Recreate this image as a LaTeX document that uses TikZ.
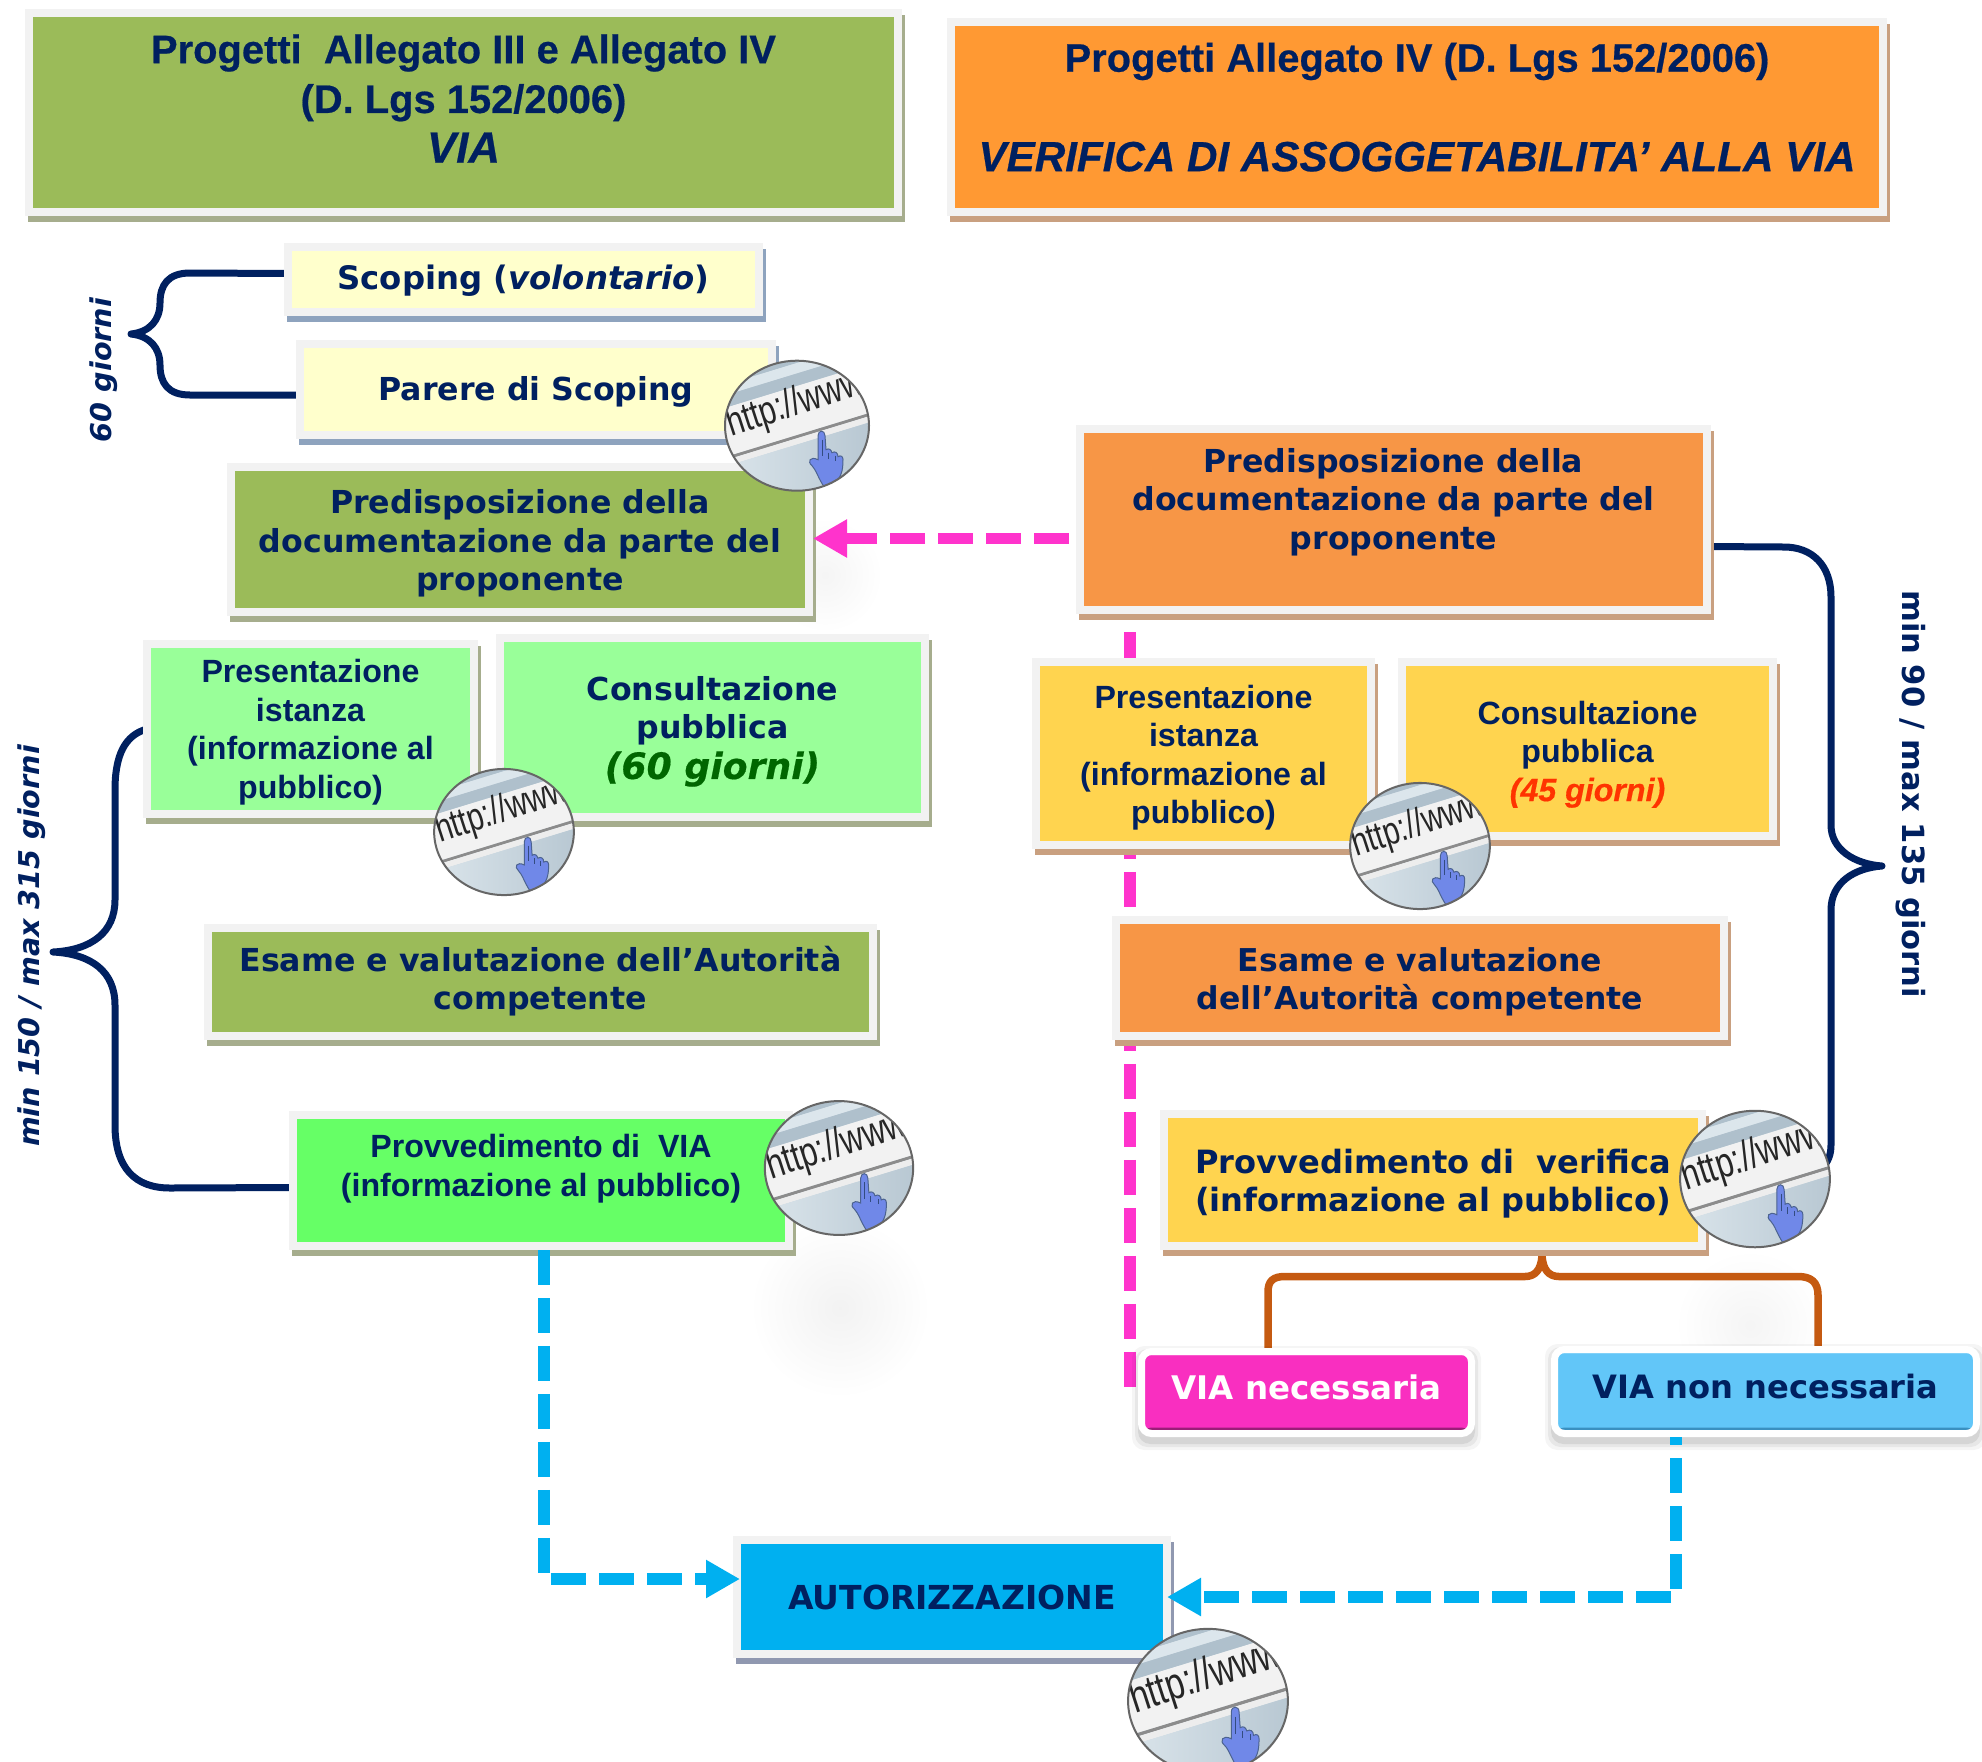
\documentclass[tikz,border=0pt]{standalone}
\usepackage{fontspec}
\usetikzlibrary{arrows.meta,calc}
\setmainfont{Liberation Sans}
\newfontfamily\vfont{DejaVu Sans}
\newfontfamily\vboldfont{DejaVu Sans}[BoldItalicFeatures={FakeBold=0.5}]
\newfontfamily\titleff{Liberation Sans}[BoldFeatures={FakeBold=0.5},BoldItalicFeatures={FakeBold=0.5}]
\newfontfamily\urlfont{Liberation Sans}[FakeStretch=0.75]
\definecolor{navy}{HTML}{002060}
\definecolor{frameg}{HTML}{F2F2F2}
\definecolor{oliveb}{HTML}{9BBB59}
\definecolor{orangeT}{HTML}{FF9933}
\definecolor{orangeB}{HTML}{F79646}
\definecolor{creamB}{HTML}{FFFFCC}
\definecolor{mintB}{HTML}{99FF99}
\definecolor{greenB}{HTML}{66FF66}
\definecolor{yellowB}{HTML}{FFD44F}
\definecolor{cyanB}{HTML}{00B0F0}
\definecolor{pinkL}{HTML}{FF33CC}
\definecolor{pinkB}{HTML}{F92FC0}
\definecolor{pinkD}{HTML}{9B1E78}
\definecolor{skyB}{HTML}{62C6F8}
\definecolor{skyD}{HTML}{3A90C0}
\definecolor{brownL}{HTML}{C55A11}
\definecolor{shOlive}{HTML}{A6AD8D}
\definecolor{shOrange}{HTML}{C9A080}
\definecolor{shBlue}{HTML}{8EA3BE}
\definecolor{shSlate}{HTML}{9098B0}
\definecolor{handblue}{HTML}{7088E8}
\definecolor{glassA}{HTML}{C9D8E2}
\definecolor{glassB}{HTML}{AFC0CC}
\definecolor{glassC}{HTML}{DCE6EC}
\definecolor{greenT}{HTML}{006600}
\definecolor{redT}{HTML}{FF3300}
\newdimen\pxu \pxu=0.02cm
\newcommand\upby[1]{\rule[\dimexpr-#1\pxu*2\relax]{0pt}{0pt}}
\newcommand\dnby[1]{\rule{0pt}{\dimexpr 13.6pt+#1\pxu*2\relax}}
\newcommand\afs[2]{\fontsize{#1}{#2}\selectfont\bfseries}
\newcommand\vfs[2]{\vfont\fontsize{#1}{#2}\selectfont\bfseries}
\tikzset{
  x=0.02cm,y=-0.02cm,
  framebox/.style={draw=frameg,line width=0.16cm,outer sep=0pt,inner sep=0pt,align=center,text=navy},
  navyline/.style={draw=navy,line width=0.14cm,line join=round},
  brownline/.style={draw=brownL,line width=0.15cm,line join=round},
  pinkdash/.style={draw=pinkL,line width=0.23cm,dash pattern=on 0.7cm off 0.26cm},
  bluedash/.style={draw=cyanB,line width=0.23cm,dash pattern=on 0.7cm off 0.26cm},
  bigtip/.style={-{Triangle[length=0.68cm,width=0.72cm]}},
  vert/.style={font=\vfs{#1}{21.9}},
  arial/.style={font=\afs{18.3}{21.9}},
  titlefont/.style={font=\titleff\fontsize{22.7}{28.3}\selectfont\bfseries},
  sidetext/.style={text=navy,inner sep=0pt,align=center},
  blob/.style={circle,inner color=black!#1,outer color=white,draw=none},
  button/.style={draw=white,line width=0.14cm,rounded corners=0.2cm,outer sep=0pt,inner sep=0pt,align=center},
  pics/urlicon/.style={code={
    \begin{scope}
      \clip (0,0) ellipse [x radius=72,y radius=65];
      \fill[glassA] (-80,-80) rectangle (80,80);
      \begin{scope}[rotate=17]
        \fill[glassB] (-90,-75) rectangle (90,-60);
        \fill[glassC] (-90,-60) rectangle (90,-50);
        \fill[glassB] (-90,-50) rectangle (90,-38);
        \fill[black!5] (-90,-38) rectangle (90,9);
        \fill[black!45] (-90,9) rectangle (90,12);
        \fill[black!7] (-90,12) rectangle (90,18);
        \shade[left color=glassC,right color=glassB] (-90,18) rectangle (90,90);
      \end{scope}
      \node[rotate=18,transform shape,text=black!85,inner sep=0pt,font=\urlfont\fontsize{23}{24}\selectfont,anchor=base west] (-url) at (-66,11) {http://www};
      \path[fill=handblue,draw=navy!70,line width=0.02cm]
        (21,10) .. controls (21,4) and (28,4) .. (28,10) -- (29,24) .. controls (32,22) and (34,24) .. (35,27)
        .. controls (38,25) and (41,27) .. (41,31) .. controls (44,29) and (46,31) .. (46,34)
        .. controls (46,46) and (44,52) .. (36,59) -- (27,61) .. controls (21,52) and (19,44) .. (15,40)
        .. controls (10,36) and (13,30) .. (21,34) -- cycle;
      \draw[navy!80,line width=0.02cm] (25,14) -- (25,30) (31,27) -- (31,33) (38,30) -- (38,35);
    \end{scope}
    \draw[black!60,line width=0.04cm] (0,0) ellipse [x radius=72,y radius=65];
  }},
}
% name, outer x1,y1,x2,y2, fill, shadow colour, font style, text
\newcommand\fbx[9]{%
  \fill[#7] ({#2+3},{#3+6}) rectangle ({#4+3},{#5+6});
  \node[framebox,#8,fill=#6,minimum width={(#4-#2-8)*\pxu},minimum height={(#5-#3-8)*\pxu}] (#1) at ({(#2+#4)/2},{(#3+#5)/2}) {#9};
}
% name, outer x1,y1,x2,y2, fill, dark edge, font+text colour, text
\newcommand\btn[9]{%
  \foreach \e/\o in {6/.04,3/.06,0/.08}{\fill[black,opacity=\o,rounded corners=0.25cm] ({#2-\e},{#3+4-\e}) rectangle ({#4+\e},{#5+7+\e});}
  \node[button,fill=#6,#8,minimum width={(#4-#2-7)*\pxu},minimum height={(#5-#3-7)*\pxu},
    path picture={\fill[#7] ([yshift=0.12cm]path picture bounding box.south west) rectangle (path picture bounding box.south east);
      \fill[#6!85!white] ([yshift=-0.08cm]path picture bounding box.north west) rectangle (path picture bounding box.north east);}] (#1) at ({(#2+#4)/2},{(#3+#5)/2}) {#9};
}
\pgfdeclarelayer{back}
\pgfsetlayers{back,main}
\begin{document}
\begin{tikzpicture}
\useasboundingbox (0,0) rectangle (1982,1762);
% ---- boxes
\fbx{titleL}{25}{9}{902}{216}{oliveb}{shOlive}{titlefont}{Progetti\ \ Allegato III e Allegato IV\\(D. Lgs 152/2006)\\{\fontsize{24.9}{28.3}\selectfont\itshape VIA}\upby{14}}
\fbx{titleR}{947}{18}{1887}{216}{orangeT}{shOrange}{titlefont}{Progetti Allegato IV (D. Lgs 152/2006)\\[28.3pt]{\fontsize{24}{28.3}\selectfont\itshape VERIFICA DI ASSOGGETABILITA’ ALLA VIA}\upby{10}}
\fbx{scoping}{284}{243}{763}{316}{creamB}{shBlue}{vert=18.4}{\dnby{2}Scoping ({\itshape volontario})}
\fbx{parere}{296}{340}{776}{439}{creamB}{shBlue}{vert=18}{\dnby{2.5}Parere di Scoping}
\fbx{predL}{227}{463}{813}{616}{oliveb}{shOlive}{vert=18}{\dnby{4}Predisposizione della\\documentazione da parte del\\proponente}
\fbx{predR}{1076}{425}{1711}{614}{orangeB}{shOrange}{vert=18}{Predisposizione della\\documentazione da parte del\\proponente\upby{21}}
\fbx{presL}{143}{640}{478}{818}{mintB}{shOlive}{arial}{\dnby{3}Presentazione\\istanza\\(informazione al\\pubblico)}
\fbx{consL}{496}{634}{929}{821}{mintB}{shOlive}{vert=18}{\dnby{4}Consultazione\\pubblica\\[1pt]{\color{greenT}\fontsize{20.6}{21.9}\selectfont\vboldfont\bfseries\itshape (60 giorni)}}
\fbx{presR}{1032}{658}{1375}{849}{yellowB}{shOrange}{arial}{\dnby{4}Presentazione\\istanza\\(informazione al\\pubblico)}
\fbx{consR}{1398}{658}{1777}{840}{yellowB}{shOrange}{arial}{\dnby{5}Consultazione\\pubblica\\{\color{redT}\titleff\itshape (45 giorni)}}
\fbx{esameL}{204}{924}{877}{1040}{oliveb}{shOlive}{vert=18}{Esame e valutazione dell’Autorità\\competente\upby{4}}
\fbx{esameR}{1112}{916}{1728}{1040}{orangeB}{shOrange}{vert=17.9}{\dnby{4}Esame e valutazione\\dell’Autorità competente}
\fbx{provL}{289}{1111}{793}{1250}{greenB}{shOlive}{arial}{Provvedimento di\ \ VIA\\(informazione al pubblico)\upby{15}}
\fbx{provR}{1160}{1110}{1706}{1250}{yellowB}{shOrange}{vert=18.25}{\dnby{4}Provvedimento di\ \ verifica\\(informazione al pubblico)}
\fbx{auth}{733}{1536}{1171}{1658}{cyanB}{shSlate}{vert=18.8}{\dnby{1}AUTORIZZAZIONE}
\btn{viaN}{1138}{1348}{1475}{1437}{pinkB}{pinkD}{text=white,vert=18.5}{VIA necessaria\upby{5}}
\btn{viaX}{1551}{1346}{1980}{1437}{skyB}{skyD}{text=navy,vert=18.3}{VIA non necessaria\upby{5}}
% ---- side labels
\node[sidetext,rotate=90,font=\vfs{16.3}{18}\itshape] (lab60) at (104,370) {60 giorni};
\node[sidetext,rotate=90,font=\vfs{16.3}{18}\itshape] (lab150) at (32,946) {min 150 / max 315 giorni};
\node[sidetext,rotate=-90,font=\vfs{17.4}{18}] (lab90) at (1911,794) {min 90 / max 135 giorni};
% ---- connectors
\coordinate (pinkx) at (1130,0);
\coordinate (brownLx) at (1268,0);
\coordinate (brownRx) at (1818,0);
\coordinate (blue1x) at (544,0);
\coordinate (blue2x) at (1676,0);
\coordinate (rbraceEnd) at (1822,1168);
\begin{pgfonlayer}{back}
  \node[blob=5,minimum size=3.6cm] (soft1) at (840,1308) {};
  \node[blob=4,minimum size=3cm] (soft2) at (1750,1325) {};
  \node[blob=4,minimum size=2.3cm] (soft3) at (825,575) {};
  \draw[pinkdash,dash phase=0.52cm] (predR.south -| pinkx) -- (viaN.west -| pinkx);
  \draw[navyline] ($(scoping.west)+(0,-6)$) -- (190,273) .. controls (168,273) and (160,285) .. (160,303)
     .. controls (160,320) and (150,332) .. (131,334) .. controls (150,336) and (160,348) .. (160,365)
     .. controls (160,383) and (168,395) .. (190,395) -- ($(parere.west)+(0,5.5)$);
  \draw[navyline] (presL.west) .. controls (125,735) and (115,755) .. (115,790) -- (115,900)
     .. controls (115,932) and (92,950) .. (53,952) .. controls (92,954) and (115,972) .. (115,1005) -- (115,1125)
     .. controls (115,1168) and (135,1188) .. (170,1188) -- ($(provL.west)+(0,7)$);
  \draw[navyline] ($(predR.east)+(0,27)$) -- (1784,547) .. controls (1812,547) and (1831,565) .. (1831,597) -- (1831,825)
     .. controls (1831,850) and (1855,864) .. (1882,866) .. controls (1855,868) and (1831,882) .. (1831,910) -- (1831,1145)
     .. controls (1831,1155) and (1828,1162) .. (rbraceEnd);
  \draw[brownline] (viaN.north -| brownLx) -- (1268,1292) .. controls (1268,1281) and (1273,1276.5) .. (1285,1276.5) -- (1525,1276.5)
     .. controls (1535,1276.5) and (1541,1270) .. (1542,1256) .. controls (1543,1270) and (1549,1276.5) .. (1559,1276.5) -- (1798,1276.5)
     .. controls (1811,1276.5) and (1818,1282) .. (1818,1295) -- (viaX.north -| brownRx);
\end{pgfonlayer}
\draw[pinkdash,bigtip] ($(predR.west)+(-11,19)$) -- ($(predR.west)+(-267,19)$);
\draw[bluedash,bigtip] ($(provL.south -| blue1x)+(0,4)$) |- ($(auth.west)+(3,-18)$);
\draw[bluedash,bigtip,dash phase=0.54cm] ($(viaX.south -| blue2x)+(0,3.5)$) |- (auth.east);
% ---- icons
\pic (icon1) at (797,425.7) {urlicon};
\pic[xscale=0.97,yscale=0.97] (icon2) at (504,832) {urlicon};
\pic[xscale=0.97,yscale=0.97] (icon3) at (1420,846) {urlicon};
\pic[xscale=1.03,yscale=1.03] (icon4) at (839,1168) {urlicon};
\pic[xscale=1.04,yscale=1.05] (icon5) at (1755,1179) {urlicon};
\pic[xscale=1.11,yscale=1.11] (icon6) at (1208,1701) {urlicon};
\end{tikzpicture}
\end{document}
